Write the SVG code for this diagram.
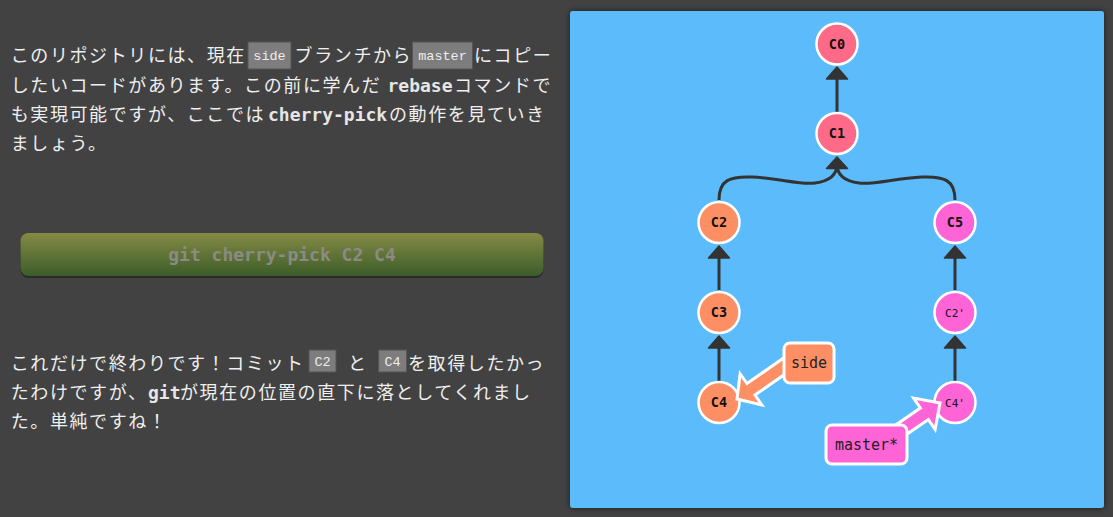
<svg xmlns="http://www.w3.org/2000/svg" width="1113" height="517" viewBox="0 0 1113 517">
<style>
.jp{font-family:"Noto Sans CJK JP","Noto Sans",sans-serif;font-size:18px;letter-spacing:1.6px;fill:#efefef}
.bd{font-family:"DejaVu Sans Mono",monospace;font-weight:bold;font-size:18px;fill:#e6e6e6}
.code{fill:#7d7d7d;stroke:#555;stroke-width:1}
.ct{font-family:"Liberation Mono","DejaVu Sans Mono",monospace;font-size:13.5px;fill:#eee;text-anchor:middle}
.cm{stroke:#fff;stroke-width:2.5}
.ctx{font-family:"DejaVu Sans Mono",monospace;font-weight:bold;font-size:13.5px;fill:#111;text-anchor:middle}
.ctx2{font-family:"DejaVu Sans Mono",monospace;font-size:11px;fill:#111;text-anchor:middle}
.ln{fill:none;stroke:#333;stroke-width:3}
.ah{fill:#333;stroke:#333;stroke-width:1.5;stroke-linejoin:round}
.lb{stroke:#fff;stroke-width:3;stroke-linejoin:miter}
.lt{font-family:"DejaVu Sans Mono","Liberation Mono",monospace;font-size:15px;fill:#222;text-anchor:middle}
</style>
<defs>
<linearGradient id="btn" x1="0" y1="0" x2="0" y2="1">
<stop offset="0" stop-color="#858a44"/>
<stop offset="1" stop-color="#3c5d2a"/>
</linearGradient>
<filter id="sh" x="-5%" y="-5%" width="110%" height="110%">
<feGaussianBlur in="SourceAlpha" stdDeviation="3"/>
<feOffset dx="0" dy="0" result="b"/>
<feFlood flood-color="#000" flood-opacity="0.6"/>
<feComposite in2="b" operator="in"/>
<feMerge><feMergeNode/><feMergeNode in="SourceGraphic"/></feMerge>
</filter>
</defs>
<rect x="0" y="0" width="1113" height="517" fill="#424242"/>

<g id="text-top">
<text class="jp" x="10.7" y="62">このリポジトリには、現在</text>
<rect class="code" x="248" y="42" width="43" height="27"/>
<text class="ct" x="269.5" y="60">side</text>
<text class="jp" x="294.6" y="62">ブランチから</text>
<rect class="code" x="412.5" y="42" width="60" height="27"/>
<text class="ct" x="442.5" y="60">master</text>
<text class="jp" x="474" y="62" letter-spacing="0.6">にコピー</text>
<text class="jp" x="10.7" y="92">したいコードがあります。この前に学んだ</text>
<text class="bd" x="387.5" y="92">rebase</text>
<text class="jp" x="454" y="92" letter-spacing="0.8">コマンドで</text>
<text class="jp" x="10.7" y="121">も実現可能ですが、ここでは</text>
<text class="bd" x="268" y="121">cherry-pick</text>
<text class="jp" x="389" y="121">の動作を見ていき</text>
<text class="jp" x="10.7" y="150">ましょう。</text>
</g>

<g id="button">
<rect x="20.5" y="235" width="523" height="43" rx="8" fill="#2a2a2a"/>
<rect x="20.5" y="233" width="523" height="43" rx="8" fill="url(#btn)"/>
<text x="282" y="261" font-family="DejaVu Sans Mono,monospace" font-weight="bold" font-size="18px" fill="#8b8b86" text-anchor="middle">git cherry-pick C2 C4</text>
</g>

<g id="text-bottom">
<text class="jp" x="10.7" y="370">これだけで終わりです！コミット</text>
<rect class="code" x="309" y="350" width="27" height="22"/>
<text class="ct" x="322.5" y="366" font-size="13px">C2</text>
<text class="jp" x="348" y="370">と</text>
<rect class="code" x="378.6" y="350" width="28" height="22"/>
<text class="ct" x="392.6" y="366" font-size="13px">C4</text>
<text class="jp" x="408" y="370">を取得したかっ</text>
<text class="jp" x="10.7" y="399">たわけですが、</text>
<text class="bd" x="148" y="399">git</text>
<text class="jp" x="180" y="399">が現在の位置の直下に落としてくれまし</text>
<text class="jp" x="10.7" y="428">た。単純ですね！</text>
</g>

<rect id="panel" x="570" y="11" width="534" height="497" rx="3" fill="#5cbcfb" filter="url(#sh)"/>

<g id="connectors">
<line class="ln" x1="837" y1="112" x2="837" y2="76"/>
<polygon class="ah" points="837,67 826.5,79 847.5,79"/>
<path class="ln" d="M719,200 C719,180 730,176 752,177 C778,178 800,185 815,183 C831,181 837,174 837,164"/>
<path class="ln" d="M955,200 C955,180 944,176 922,177 C896,178 874,185 859,183 C843,181 837,174 837,164"/>
<polygon class="ah" points="837,157 826.5,168.5 847.5,168.5"/>
<line class="ln" x1="719" y1="290" x2="719" y2="255"/>
<polygon class="ah" points="719,246 708.5,258 729.5,258"/>
<line class="ln" x1="719" y1="381" x2="719" y2="345"/>
<polygon class="ah" points="719,336 708.5,348 729.5,348"/>
<line class="ln" x1="955" y1="290" x2="955" y2="255"/>
<polygon class="ah" points="955,246 944.5,258 965.5,258"/>
<line class="ln" x1="955" y1="381" x2="955" y2="345"/>
<polygon class="ah" points="955,336 944.5,348 965.5,348"/>
</g>

<g id="C0"><circle class="cm" cx="837" cy="44" r="20.5" fill="#fe6a88"/><text class="ctx" x="837" y="48.5">C0</text></g>
<g id="C1"><circle class="cm" cx="837" cy="133.5" r="20.5" fill="#fe6a88"/><text class="ctx" x="837" y="138">C1</text></g>
<g id="C2"><circle class="cm" cx="719" cy="222.5" r="20.5" fill="#fe8f65"/><text class="ctx" x="719" y="227">C2</text></g>
<g id="C3"><circle class="cm" cx="719" cy="312.5" r="20.5" fill="#fe8f65"/><text class="ctx" x="719" y="317">C3</text></g>
<g id="C4"><circle class="cm" cx="719" cy="402.5" r="20.5" fill="#fe8f65"/><text class="ctx" x="719" y="407">C4</text></g>
<g id="C5"><circle class="cm" cx="955" cy="222.5" r="20.5" fill="#fe64d6"/><text class="ctx" x="955" y="227">C5</text></g>
<g id="C2p"><circle class="cm" cx="955" cy="312.5" r="20.5" fill="#fe64d6"/><text class="ctx2" x="955" y="316.5">C2'</text></g>
<g id="C4p"><circle class="cm" cx="955" cy="402.5" r="20.5" fill="#fe64d6"/><text class="ctx2" x="955" y="406.5">C4'</text></g>

<g id="side">
<polygon class="lb" fill="#fe8f65" points="786.4,356.1 747,383.5 740.1,373.7 737,399 761.8,404.9 755,395 794.4,367.6"/>
<rect class="lb" x="784" y="343" width="50" height="40" rx="6" fill="#fe8f65"/>
<text class="lt" x="809" y="368">side</text>
</g>

<g id="master">
<polygon class="lb" fill="#fe64d6" points="882.5,434 920.4,408 913.6,398.1 940,403 935.1,429.4 928.3,419.5 890.4,445.6"/>
<rect class="lb" x="826" y="425" width="81" height="39" rx="6" fill="#fe64d6"/>
<text class="lt" x="866.5" y="450">master*</text>
</g>
</svg>
